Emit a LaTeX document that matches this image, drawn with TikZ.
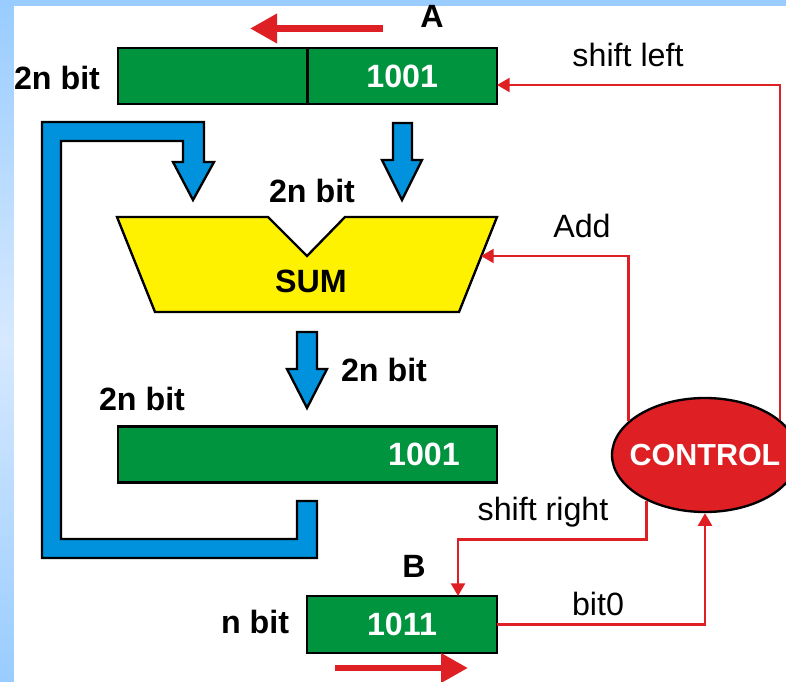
\documentclass[tikz,border=0pt]{standalone}
\usepackage{fontspec}
\setmainfont{Liberation Sans}
\usetikzlibrary{positioning,calc,shapes.geometric,arrows.meta}
\definecolor{regGreen}{RGB}{0,148,62}
\definecolor{pipeBlue}{RGB}{0,146,220}
\definecolor{sigRed}{RGB}{222,32,36}
\definecolor{bgBlue}{RGB}{153,204,255}
\definecolor{bgLight}{RGB}{214,233,255}
\newcommand{\bigfont}{\fontsize{27.5}{32}\selectfont}
\tikzstyle{register} = [draw, line width=2pt, fill=regGreen, rectangle, outer sep=0pt, text=white, font=\bigfont\bfseries, minimum height=1.68cm]
\tikzstyle{control} = [draw, line width=2pt, fill=sigRed, ellipse, text=white, font=\fontsize{26}{31}\selectfont\bfseries, minimum width=5.58cm, minimum height=3.42cm, inner sep=0pt]
\tikzstyle{pipe} = [draw, line width=2pt, fill=pipeBlue, line join=miter]
\tikzstyle{signal} = [draw=sigRed, line width=2pt, -{Triangle[length=0.38cm,width=0.42cm]}]
\tikzstyle{move} = [draw=sigRed, line width=0.2cm, -{Triangle[length=0.81cm,width=0.84cm]}]
\tikzstyle{bits} = [font=\bigfont\bfseries, anchor=base, inner sep=0pt]
\tikzstyle{sig} = [font=\bigfont, anchor=base, inner sep=0pt]

\begin{document}
\begin{tikzpicture}[x=0.03cm, y=-0.03cm]
    % Frame
    \useasboundingbox (0,0) rectangle (786,682);
    \shade [top color=bgBlue, bottom color=bgBlue, middle color=bgLight] (0,0) rectangle (786,682);
    \fill [white] (14,6) rectangle (786,682);

    % Registers
    \node [register, minimum width=5.685cm] (regAlo) at (402.25,76) {1001};
    \node [register, minimum width=5.685cm, left=0pt of regAlo] (regAhi) {};
    \node [register, minimum width=11.37cm] (regP) at (307.5,454.5) {};
    \node [text=white, font=\bigfont\bfseries] (valP) at ($(regP.center)+(116.5,0)$) {1001};
    \node [register, minimum width=5.7cm, minimum height=1.71cm] (regB) at (402,624.5) {1011};

    % Adder
    \draw [fill=yellow, line width=2pt, line join=miter] (117,217) -- (268,217) -- (307,256) -- (345,217)
        -- (497,217) -- (459,312) -- (155,312) -- cycle;
    \coordinate (sumAdd) at (481,256);
    \node [bits] (sum) at (311,293) {SUM};

    % Control
    \node [control] (ctrl) at (705,455) {\makebox[0pt]{CONTROL}};

    % Data paths
    \draw [pipe] (393,123) -- (412,123) -- (412,160) -- (422,160) -- (402,200) -- (382,160) -- (393,160) -- cycle;
    \draw [pipe] (297,332) -- (317,332) -- (317,369) -- (327,369) -- (307,408) -- (287,369) -- (297,369) -- cycle;
    \draw [pipe] (317,501) -- (317,558) -- (42,558) -- (42,122) -- (204,122) -- (204,162) -- (214,162)
        -- (193,200) -- (173,162) -- (183,162) -- (183,141) -- (61,141) -- (61,539) -- (297,539)
        -- (297,501) -- cycle;

    % Shift directions
    \coordinate (shlA) at (383,28.5);
    \coordinate (shrB) at (335,668);
    \draw [move] (shlA) -- ++(-133,0);
    \draw [move] (shrB) -- ++(133,0);

    % Control lines
    \draw [signal] (ctrl.25) |- ([yshift=-0.27cm]regAlo.east);
    \draw [signal] (ctrl.156) |- (sumAdd);
    \draw [signal] (ctrl.218) -- ++(0,39) -| ([xshift=1.68cm]regB.north);
    \draw [signal] (regB.east) -| (ctrl.south);

    % Labels
    \node [bits] (nameA) at (432,28) {A};
    \node [bits] (nameB) at (414,577) {B};
    \node [bits] (widthA) at (57,90) {2n bit};
    \node [bits] (widthSum) at (312,203) {2n bit};
    \node [bits] (widthOut) at (384,381) {2n bit};
    \node [bits] (widthP) at (142,410) {2n bit};
    \node [bits] (widthB) at (255,633) {n bit};
    \node [sig] (lblShl) at (628,67) {shift left};
    \node [sig] (lblAdd) at (582,238) {Add};
    \node [sig] (lblShr) at (543,520) {shift right};
    \node [sig] (lblBit) at (598,615) {bit0};
\end{tikzpicture}
\end{document}
